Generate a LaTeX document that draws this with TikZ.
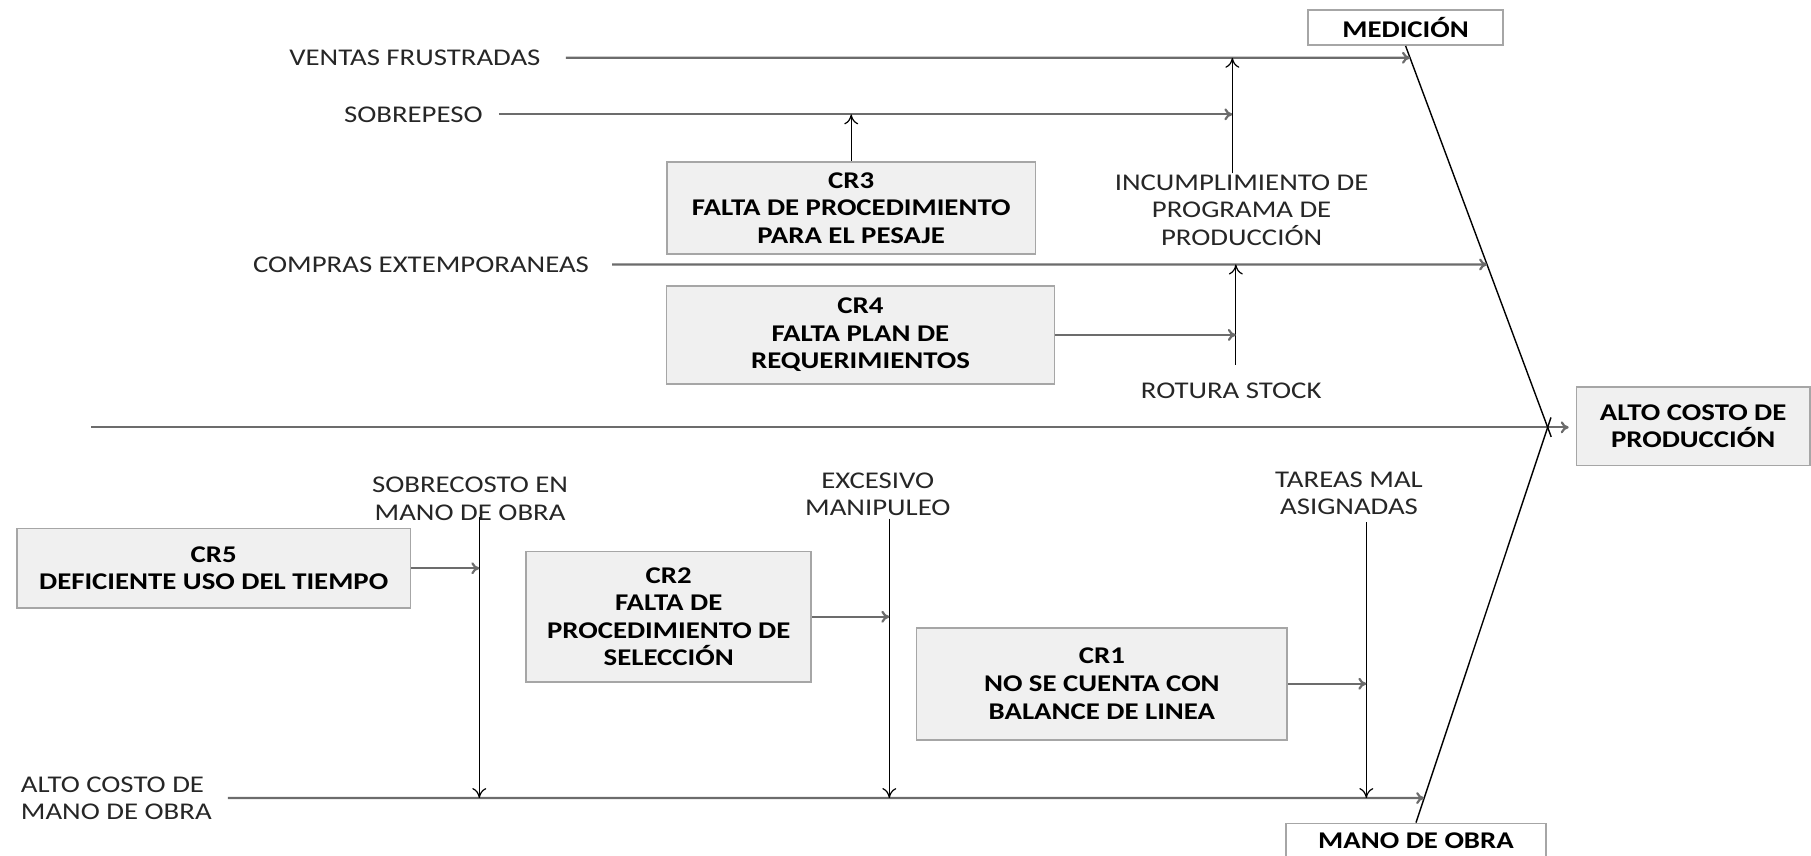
\documentclass[tikz,border=0pt]{standalone}
\usepackage{fontspec}
\setmainfont{Carlito}[FakeStretch=1.2]
\usetikzlibrary{positioning,arrows.meta,calc}

\newlength\unidad
\setlength\unidad{0.5775pt}
\newcommand\fuentebase{\fontsize{12}{13.8}\selectfont}

\tikzset{
    causa/.style={draw=gray!70, line width=0.9pt, fill=gray!12, font=\fuentebase\bfseries, align=center, inner sep=2pt},
    categoria/.style={draw=gray!70, line width=0.9pt, fill=white, font=\fuentebase\bfseries, align=center, inner sep=2pt},
    rotulo/.style={align=center, text=black!85, font=\fuentebase, inner sep=1pt},
    espina/.style={draw=gray!85!black, line width=1.1pt, -{To[length=4pt,width=6pt]}},
    flecha/.style={draw=black, line width=0.6pt, -{To[length=5pt,width=7pt]}},
    hueso/.style={draw=black, line width=0.7pt},
}

\begin{document}
\begin{tikzpicture}[x=\unidad, y=-\unidad]
    \useasboundingbox (0,0) rectangle (1568,741);

    \node[causa, minimum width=202\unidad, minimum height=68\unidad] (efecto) at (1466,369) {ALTO COSTO DE\\PRODUCCIÓN};
    \node[categoria, minimum width=169\unidad, minimum height=30\unidad] (medicion) at (1217,24) {MEDICIÓN};
    \node[categoria, minimum width=225\unidad, minimum height=30\unidad] (manoobra) at (1226,728) {MANO DE OBRA};

    \node[causa, minimum width=319\unidad, minimum height=80\unidad] (cr3) at (737,180) {CR3\\FALTA DE PROCEDIMIENTO\\PARA EL PESAJE};
    \node[causa, minimum width=336\unidad, minimum height=85\unidad] (cr4) at (745,290) {CR4\\FALTA PLAN DE\\REQUERIMIENTOS};
    \node[causa, minimum width=341\unidad, minimum height=69\unidad] (cr5) at (185,492) {CR5\\DEFICIENTE USO DEL TIEMPO};
    \node[causa, minimum width=247\unidad, minimum height=113\unidad] (cr2) at (579,534) {CR2\\FALTA DE\\PROCEDIMIENTO DE\\SELECCIÓN};
    \node[causa, minimum width=321\unidad, minimum height=97\unidad] (cr1) at (954,592) {CR1\\NO SE CUENTA CON\\BALANCE DE LINEA};

    \node[rotulo, anchor=east] (ventas) at (470,50) {VENTAS FRUSTRADAS};
    \node[rotulo, anchor=east] (sobrepeso) at (420,99) {SOBREPESO};
    \node[rotulo, anchor=east] (compras) at (512,229) {COMPRAS EXTEMPORANEAS};
    \node[rotulo] (incumplimiento) at (1075,182) {INCUMPLIMIENTO DE\\PROGRAMA DE\\PRODUCCIÓN};
    \node[rotulo] (rotura) at (1066,338) {ROTURA STOCK};
    \node[rotulo] (sobrecosto) at (407,432) {SOBRECOSTO EN\\MANO DE OBRA};
    \node[rotulo] (excesivo) at (760,428) {EXCESIVO\\MANIPULEO};
    \node[rotulo] (tareas) at (1168,427) {TAREAS MAL\\ASIGNADAS};
    \node[rotulo, anchor=west, align=left] (altomo) at (16,691) {ALTO COSTO DE\\MANO DE OBRA};

    \coordinate (cola) at (79,370);
    \coordinate (cruce) at (1340,370);
    \coordinate (incumplimientoTop) at (1067,150);
    \coordinate (roturaTop) at (1070,316);
    \coordinate (sobrecostoTop) at (415,448);
    \coordinate (excesivoTop) at (770,449);
    \coordinate (tareasTop) at (1183,452);

    \draw[espina] (cola) -- ([xshift=-6\unidad]cola -| efecto.west);
    \draw[hueso] (medicion.south) -- ($(medicion.south)!1.025!(cruce)$);
    \draw[hueso] ($(manoobra.north)!1.025!(cruce)$) -- (manoobra.north);

    \draw[espina] ($(ventas.east)+(20,0)$) -- (intersection of medicion.south--cruce and ventas.west--ventas.east);
    \draw[espina] ($(sobrepeso.east)+(12,0)$) -- (incumplimientoTop |- sobrepeso.east);
    \draw[espina] ($(compras.east)+(18,0)$) -- (intersection of medicion.south--cruce and compras.west--compras.east);
    \draw[espina] ($(altomo.east)+(12,0)$) -- (intersection of cruce--manoobra.north and altomo.west--altomo.east);

    \draw[flecha] (cr3.north) -- (cr3.north |- sobrepeso.east);
    \draw[flecha] (incumplimientoTop) -- (incumplimientoTop |- ventas.east);
    \draw[flecha] (roturaTop) -- (roturaTop |- compras.east);
    \draw[espina] (cr4.east) -- (roturaTop |- cr4.east);

    \draw[flecha] (sobrecostoTop) -- (sobrecostoTop |- altomo.east);
    \draw[flecha] (excesivoTop) -- (excesivoTop |- altomo.east);
    \draw[flecha] (tareasTop) -- (tareasTop |- altomo.east);
    \draw[espina] (cr5.east) -- (sobrecostoTop |- cr5.east);
    \draw[espina] (cr2.east) -- (excesivoTop |- cr2.east);
    \draw[espina] (cr1.east) -- (tareasTop |- cr1.east);
\end{tikzpicture}
\end{document}
